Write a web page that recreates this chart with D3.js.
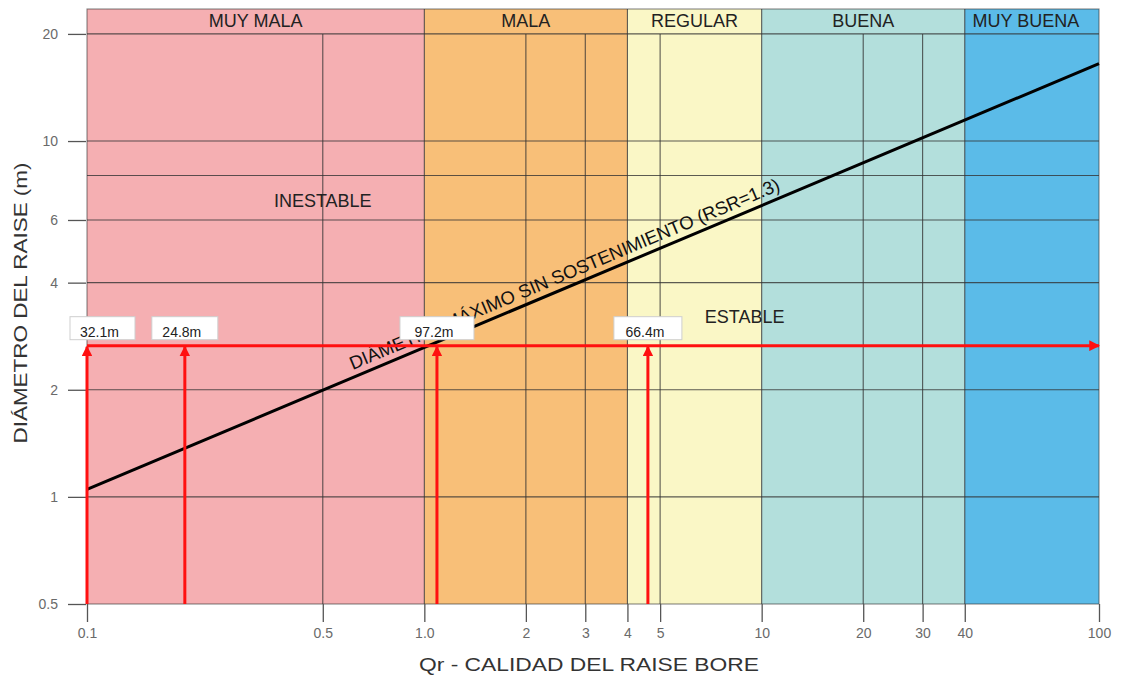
<!DOCTYPE html>
<html>
<head>
<meta charset="utf-8">
<script src="https://cdn.jsdelivr.net/npm/d3@7"></script>
<style>
  html, body { margin: 0; padding: 0; background: #fff; }
  svg { display: block; font-family: "Liberation Sans", Arial, sans-serif; }
</style>
</head>
<body>
<svg id="chart" width="1124" height="686"></svg>
<script>
// Rock-quality classes along Qr
const zoneNames = ["MUY MALA", "MALA", "REGULAR", "BUENA", "MUY BUENA"];
const zoneFrom  = [0.1, 1, 4, 10, 40];
const zoneTo    = [1, 4, 10, 40, 100];
const zoneColors = ["#f5afb2", "#f8bf78", "#faf7c6", "#b3dfdc", "#5bbbe8"];

// Axis ticks
const xTickValues = [0.1, 0.5, 1, 2, 3, 4, 5, 10, 20, 30, 40, 100];
const xTickLabels = ["0.1", "0.5", "1.0", "2", "3", "4", "5", "10", "20", "30", "40", "100"];
const xGridValues = [0.5, 2, 3, 5, 20, 30];
const yTickValues = [0.5, 1, 2, 4, 6, 10, 20];
const yGridValues = [1, 2, 4, 6, 8, 10];

// Maximum unsupported diameter line (RSR = 1.3)
const limitQ = [0.1, 100];
const limitD = [1.05, 16.5];

// Raise design points
const raiseQ      = [0.1, 0.195, 1.09, 4.6];
const raiseLabels = ["32.1m", "24.8m", "97.2m", "66.4m"];
const raiseD      = 2.66;

const svg = d3.select("#chart");
const plotL = 87, plotR = 1099, plotT = 9, plotB = 604;

const x = d3.scaleLog().domain([0.1, 100]).range([plotL, plotR]);
const y = d3.scaleLog().domain([0.5, 23.5]).range([plotB, plotT]);
const headerBottom = y(20);

// Zone backgrounds
svg.append("g").selectAll("rect")
  .data(zoneNames)
  .join("rect")
  .attr("x", (d, i) => x(zoneFrom[i]))
  .attr("y", plotT)
  .attr("width", (d, i) => x(zoneTo[i]) - x(zoneFrom[i]))
  .attr("height", plotB - plotT)
  .attr("fill", (d, i) => zoneColors[i]);

// Grid
const grid = svg.append("g").attr("stroke", "#333").attr("stroke-opacity", 0.8).attr("stroke-width", 1.1);
grid.append("g").selectAll("line").data(yGridValues).join("line")
  .attr("x1", plotL).attr("x2", plotR)
  .attr("y1", d => y(d)).attr("y2", d => y(d));
grid.append("g").selectAll("line").data(xGridValues).join("line")
  .attr("x1", d => x(d)).attr("x2", d => x(d))
  .attr("y1", headerBottom).attr("y2", plotB);
// Zone boundaries and header line
grid.append("g").selectAll("line").data(zoneFrom.slice(1)).join("line")
  .attr("x1", d => x(d)).attr("x2", d => x(d))
  .attr("y1", plotT).attr("y2", plotB);
grid.append("line").attr("x1", plotL).attr("x2", plotR)
  .attr("y1", headerBottom).attr("y2", headerBottom);
grid.append("rect").attr("x", plotL).attr("y", plotT)
  .attr("width", plotR - plotL).attr("height", plotB - plotT)
  .attr("fill", "none").attr("stroke-opacity", 0.6);

// Zone titles
svg.append("g").selectAll("text").data(zoneNames).join("text")
  .attr("x", (d, i) => (x(zoneFrom[i]) + x(zoneTo[i])) / 2 - (i === 4 ? 6 : 0))
  .attr("y", (plotT + headerBottom) / 2 + 6)
  .attr("text-anchor", "middle")
  .attr("font-size", 18)
  .attr("fill", "#222")
  .text(d => d);

// Axes
const xAxis = d3.axisBottom(x).tickValues(xTickValues)
  .tickFormat((d, i) => xTickLabels[i]).tickSize(18).tickPadding(6);
const gx = svg.append("g").attr("transform", `translate(0,${plotB})`).call(xAxis);
const yAxis = d3.axisLeft(y).tickValues(yTickValues)
  .tickFormat(d => String(d)).tickSize(18).tickPadding(10);
const gy = svg.append("g").attr("transform", `translate(${plotL - 1},0)`).call(yAxis);
[gx, gy].forEach(g => {
  g.select(".domain").remove();
  g.selectAll(".tick line").attr("stroke", "#555").attr("stroke-width", 1.3);
  g.selectAll(".tick text").attr("fill", "#6a6a6a").attr("font-size", 14)
    .attr("font-family", "Liberation Sans, Arial, sans-serif");
});

// Stability zone labels
svg.append("text").attr("x", x(0.5)).attr("y", y(6.8) + 6)
  .attr("text-anchor", "middle").attr("font-size", 18).attr("fill", "#222").text("INESTABLE");
svg.append("text").attr("x", x(8.9)).attr("y", y(3.2) + 6)
  .attr("text-anchor", "middle").attr("font-size", 18).attr("fill", "#222").text("ESTABLE");

// Limit line
const line = d3.line().x((d, i) => x(limitQ[i])).y((d, i) => y(limitD[i]));
svg.append("path").datum(limitQ).attr("d", line)
  .attr("fill", "none").attr("stroke", "#000").attr("stroke-width", 3);

// Label along the limit line
const ang = Math.atan2(y(limitD[1]) - y(limitD[0]), x(limitQ[1]) - x(limitQ[0])) * 180 / Math.PI;
const slope = Math.log(limitD[1] / limitD[0]) / Math.log(limitQ[1] / limitQ[0]);
const q0 = 0.625, d0 = limitD[0] * Math.pow(q0 / limitQ[0], slope);
svg.append("text")
  .attr("transform", `translate(${x(q0)},${y(d0)}) rotate(${ang}) translate(0,-7)`)
  .attr("font-size", 18.5).attr("fill", "#111")
  .text("DIÁMETRO MÁXIMO SIN SOSTENIMIENTO (RSR=1.3)");

// Red design arrows
const red = "#ff1010";
const defs = svg.append("defs");
defs.append("marker").attr("id", "head").attr("viewBox", "0 0 10 10")
  .attr("refX", 9).attr("refY", 5).attr("markerWidth", 3.6).attr("markerHeight", 3.6)
  .attr("markerUnits", "strokeWidth").attr("orient", "auto")
  .append("path").attr("d", "M0,0 L10,5 L0,10 Z").attr("fill", red);

svg.append("line")
  .attr("x1", x(raiseQ[0])).attr("x2", plotR)
  .attr("y1", y(raiseD)).attr("y2", y(raiseD))
  .attr("stroke", red).attr("stroke-width", 3).attr("marker-end", "url(#head)");

svg.append("g").selectAll("line").data(raiseQ).join("line")
  .attr("x1", d => x(d)).attr("x2", d => x(d))
  .attr("y1", plotB).attr("y2", y(raiseD) + 1)
  .attr("stroke", red).attr("stroke-width", 3).attr("marker-end", "url(#head)");

// Value boxes
const boxW = [65, 66, 74, 68], boxH = 23;
const boxes = svg.append("g").selectAll("g").data(raiseQ).join("g")
  .attr("transform", (d, i) => `translate(${Math.max(x(d) - boxW[i] / 2, 70)},${y(raiseD) - boxH - 6})`);
boxes.append("rect").attr("width", (d, i) => boxW[i]).attr("height", boxH)
  .attr("fill", "#fff").attr("stroke", "#cfcfcf").attr("stroke-width", 1);
boxes.append("text").attr("x", (d, i) => boxW[i] / 2 - 3).attr("y", boxH - 3)
  .attr("text-anchor", "middle").attr("font-size", 14).attr("fill", "#222")
  .text((d, i) => raiseLabels[i]);

// Axis titles
svg.append("text").attr("x", 589).attr("y", 671)
  .attr("text-anchor", "middle").attr("font-size", 19).attr("fill", "#333")
  .attr("textLength", 340).attr("lengthAdjust", "spacingAndGlyphs")
  .text("Qr - CALIDAD DEL RAISE BORE");
svg.append("text").attr("transform", `translate(27,303) rotate(-90)`)
  .attr("text-anchor", "middle").attr("font-size", 19).attr("fill", "#333")
  .attr("textLength", 281).attr("lengthAdjust", "spacingAndGlyphs")
  .text("DIÁMETRO DEL RAISE (m)");
</script>
</body>
</html>
